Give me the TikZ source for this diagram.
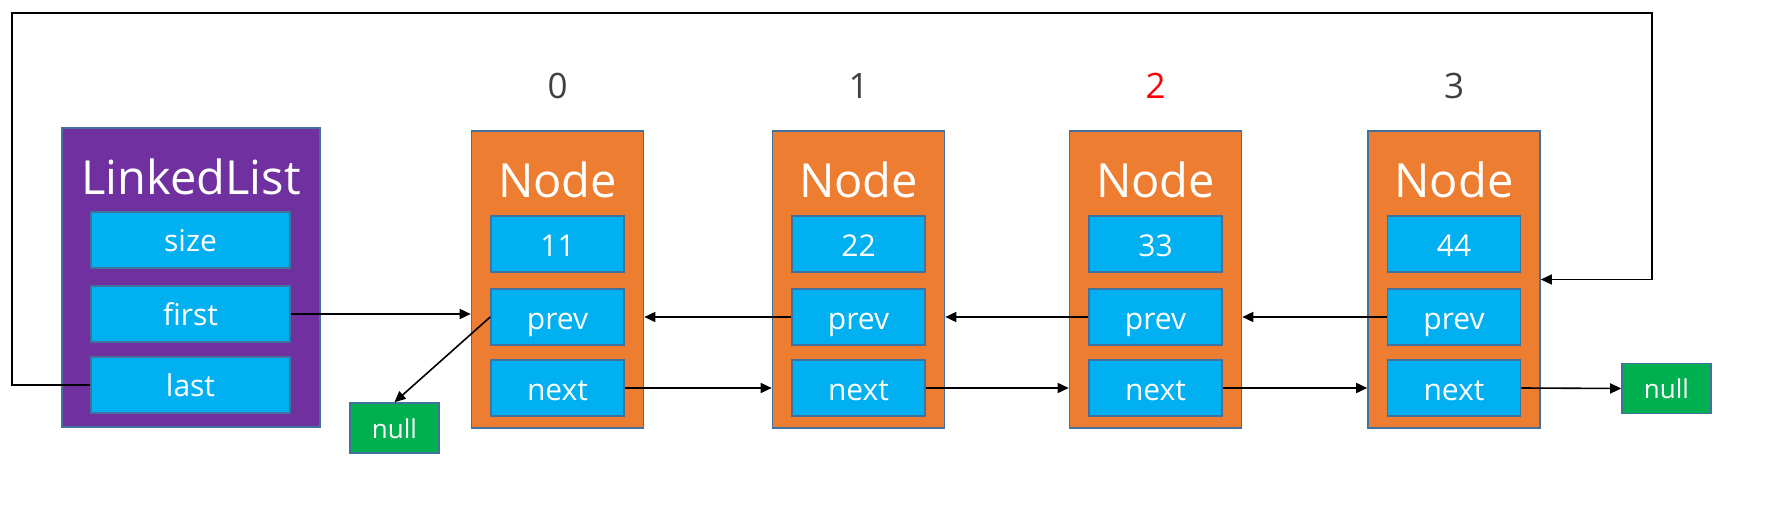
\documentclass[tikz,border=0pt]{standalone}
\usepackage{fontspec}
\setmainfont{Open Sans}
\usetikzlibrary{arrows.meta}
\definecolor{llpurple}{HTML}{7030A0}
\definecolor{ndorange}{HTML}{ED7D31}
\definecolor{fldblue}{HTML}{00B0F0}
\definecolor{nullgreen}{HTML}{00B050}
\definecolor{edgeblue}{HTML}{41719C}
\definecolor{lblgray}{HTML}{404040}
\tikzset{
  outerbox/.style={draw=edgeblue, line width=1.6pt, inner sep=0pt, rectangle},
  llbox/.style={outerbox, fill=llpurple, minimum width=258pt, minimum height=299pt},
  ndbox/.style={outerbox, fill=ndorange, minimum width=172pt, minimum height=297pt},
  llfield/.style={outerbox, fill=fldblue, minimum width=199pt, minimum height=56pt, text=white, text height=23.6pt, text depth=0pt, font=\fontsize{30}{32}\selectfont},
  ndfield/.style={outerbox, fill=fldblue, minimum width=133pt, minimum height=56pt, text=white, text height=24.4pt, text depth=0pt, font=\fontsize{30}{32}\selectfont},
  nullbox/.style={outerbox, fill=nullgreen, minimum width=89pt, minimum height=50pt, text=white, text height=20.4pt, text depth=0pt, font=\fontsize{26}{28}\selectfont},
  titletext/.style={text=white, inner sep=0pt, font=\fontsize{47}{50}\selectfont},
  idxlabel/.style={text=lblgray, inner sep=0pt, font=\fontsize{35}{38}\selectfont},
  arr/.style={draw=black, line width=1.6pt, -{Triangle[length=11pt,width=10pt]}},
}
\begin{document}
\begin{tikzpicture}[x=1pt,y=-1pt]
\useasboundingbox (0,0) rectangle (1771,510);
\fill[white] (0,0) rectangle (1771,510);
% LinkedList
\node[llbox] (ll) at (191,277.5) {};
\node[titletext] (lltitle) at (191,177) {LinkedList};
\node[llfield] (llsize) at (190.5,240) {size};
\node[llfield] (llfirst) at (190.5,314) {first};
\node[llfield] (lllast) at (190.5,385) {last};
% Nodes
\foreach \i/\x/\v/\c in {0/557.5/11/lblgray,1/858.5/22/lblgray,2/1155.5/33/red,3/1454/44/lblgray}{
  \node[ndbox] (n\i) at (\x,279.5) {};
  \node[titletext] (n\i title) at (\x,180) {Node};
  \node[ndfield] (n\i val) at (\x,244) {\v};
  \node[ndfield] (n\i prev) at (\x,317) {prev};
  \node[ndfield] (n\i next) at (\x,388) {next};
  \node[idxlabel, text=\c] (lbl\i) at (\x,86) {\i};
}
% null boxes
\node[nullbox] (null1) at (394.5,428) {null};
\node[nullbox] (null2) at (1666.5,388.5) {null};
% connectors
\coordinate (tl) at (12,13);
\coordinate (tr) at (1652,13);
\draw[arr] (lllast.west) -| (tl) -- (tr) |- (n3.east);
\draw[arr] (llfirst.east) -- (llfirst.east -| n0.west);
\draw[arr] (n0prev.west) -- (null1.north);
\draw[arr] (n1prev.west) -- (n1prev.west -| n0.east);
\draw[arr] (n2prev.west) -- (n2prev.west -| n1.east);
\draw[arr] (n3prev.west) -- (n3prev.west -| n2.east);
\draw[arr] (n0next.east) -- (n0next.east -| n1.west);
\draw[arr] (n1next.east) -- (n1next.east -| n2.west);
\draw[arr] (n2next.east) -- (n2next.east -| n3.west);
\draw[arr] (n3next.east) -- (null2.west);
\end{tikzpicture}
\end{document}
